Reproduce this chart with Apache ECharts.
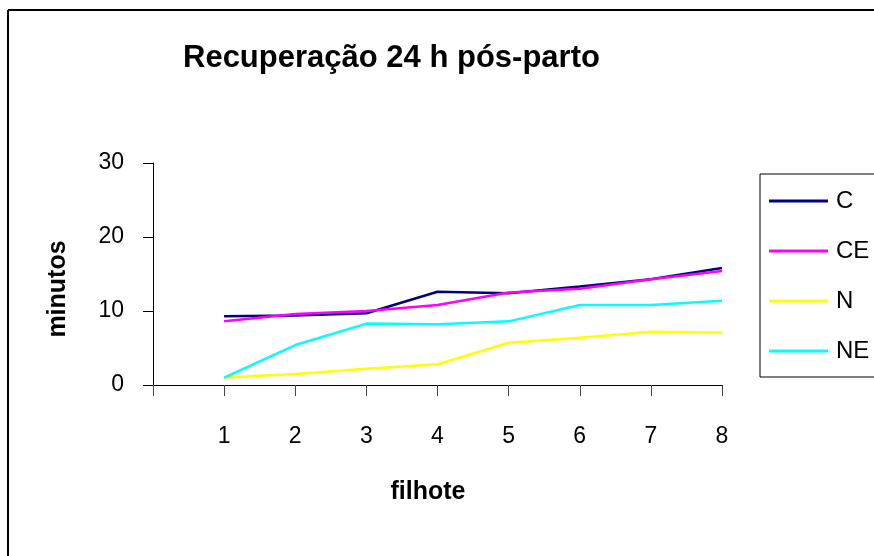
<!DOCTYPE html>
<html>
<head>
<meta charset="utf-8">
<script src="https://cdn.jsdelivr.net/npm/echarts@6/dist/echarts.min.js"></script>
<style>
  html, body { margin: 0; padding: 0; background: #fff; }
  #chart { width: 874px; height: 556px; }
</style>
</head>
<body>
<div id="chart"></div>
<script>
// Recovery time (minutes) per pup, 24 h after birth, four groups
const pups = [1, 2, 3, 4, 5, 6, 7, 8];
const seriesNames = ['C', 'CE', 'N', 'NE'];
const valuesC  = [9.3, 9.4, 9.7, 12.6, 12.4, 13.3, 14.3, 15.8];
const valuesCE = [8.6, 9.6, 10.0, 10.8, 12.5, 13.0, 14.3, 15.4];
const valuesN  = [1.0, 1.5, 2.2, 2.8, 5.7, 6.4, 7.2, 7.1];
const valuesNE = [1.0, 5.4, 8.3, 8.2, 8.6, 10.8, 10.8, 11.4];
const yTicks = [0, 10, 20, 30];

const colors = ['#000080', '#FF00FF', '#FFFF00', '#00FFFF'];
const allValues = [valuesC, valuesCE, valuesN, valuesNE];
const FONT = '"Liberation Sans", Arial, sans-serif';

const chart = echarts.init(document.getElementById('chart'), null, { renderer: 'canvas' });

chart.setOption({
  animation: false,
  backgroundColor: '#fff',
  title: {
    text: 'Recuperação 24 h pós-parto',
    left: 178,
    top: 38,
    textStyle: { fontFamily: FONT, fontSize: 31, fontWeight: 'bold', color: '#000' }
  },
  grid: { left: 153, right: 152, top: 163, bottom: 171, containLabel: false },
  legend: {
    orient: 'vertical',
    left: 760,
    top: 174,
    padding: [15, 8, 14, 9],
    icon: 'rect',
    itemWidth: 59,
    itemHeight: 3,
    itemGap: 26,
    borderColor: '#000',
    borderWidth: 1,
    borderRadius: 0,
    textStyle: { fontFamily: FONT, fontSize: 24, color: '#000', padding: [0, 0, 0, 3] },
    data: seriesNames
  },
  xAxis: {
    type: 'value',
    min: 0,
    max: 8,
    interval: 1,
    axisLine: { show: true, onZero: false, lineStyle: { color: '#000', width: 1 } },
    axisTick: { show: true, inside: false, length: 11, lineStyle: { color: '#444', width: 1 } },
    splitLine: { show: false },
    axisLabel: {
      margin: 40,
      fontFamily: FONT,
      fontSize: 23,
      color: '#000',
      formatter: function (v) { return pups.indexOf(v) >= 0 ? String(v) : ''; }
    }
  },
  yAxis: {
    type: 'value',
    min: yTicks[0],
    max: yTicks[yTicks.length - 1],
    interval: 10,
    axisLine: { show: true, lineStyle: { color: '#000', width: 1 } },
    axisTick: { show: true, inside: false, length: 10, lineStyle: { color: '#000', width: 1 } },
    splitLine: { show: false },
    axisLabel: { margin: 29, fontFamily: FONT, fontSize: 23, color: '#000' }
  },
  graphic: [
    // outer frame (top and left edges)
    { type: 'line', shape: { x1: 8, y1: 10, x2: 874, y2: 10 }, style: { stroke: '#000', lineWidth: 2 } },
    { type: 'line', shape: { x1: 8, y1: 10, x2: 8, y2: 556 }, style: { stroke: '#000', lineWidth: 2 } },
    // axis titles
    {
      type: 'text', x: 58, y: 289, rotation: Math.PI / 2,
      style: { text: 'minutos', font: 'bold 25px ' + FONT, fill: '#000', align: 'center', verticalAlign: 'middle' }
    },
    {
      type: 'text', x: 428, y: 492,
      style: { text: 'filhote', font: 'bold 25px ' + FONT, fill: '#000', align: 'center', verticalAlign: 'middle' }
    }
  ],
  series: seriesNames.map(function (n, i) {
    return {
      name: n,
      type: 'line',
      symbol: 'none',
      color: colors[i],
      lineStyle: { color: colors[i], width: 2.5 },
      data: pups.map(function (p, k) { return [p, allValues[i][k]]; })
    };
  })
});
</script>
</body>
</html>
